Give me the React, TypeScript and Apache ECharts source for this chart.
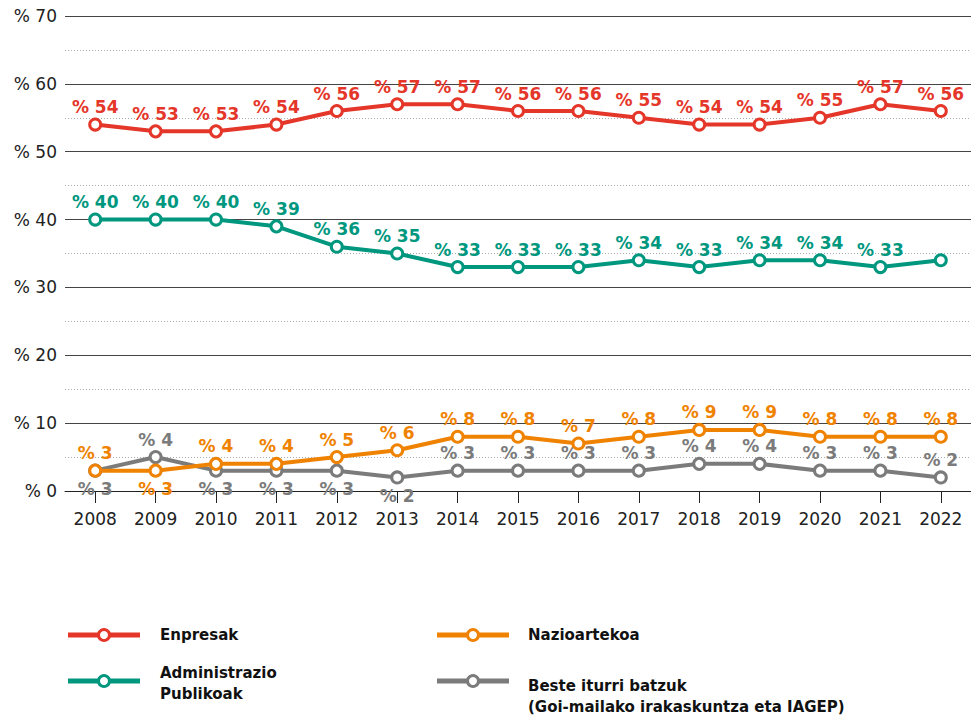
import React, { useEffect, useRef } from "react";
import * as echarts from "echarts";

const years = ["2008","2009","2010","2011","2012","2013","2014","2015","2016","2017","2018","2019","2020","2021","2022"];
const enpresak = [54,53,53,54,56,57,57,56,56,55,54,54,55,57,56];
const administrazioa = [40,40,40,39,36,35,33,33,33,34,33,34,34,33,34];
const nazioartekoa = [3,3,4,4,5,6,8,8,7,8,9,9,8,8,8];
const beste = [3,5,3,3,3,2,3,3,3,3,4,4,3,3,2];
const besteLabels = [3,4,3,3,3,2,3,3,3,3,4,4,3,3,2];
const nazioBelow = [false,true,false,false,false,false,false,false,false,false,false,false,false,false,false];
const besteBelow = [true,false,true,true,true,true,false,false,false,false,false,false,false,false,false];
const yTicks = [0,10,20,30,40,50,60,70];

const RED = "#e5362a";
const GREEN = "#00977f";
const ORANGE = "#ef8200";
const GRAY = "#7b7b7b";
const FONT = "'DejaVu Sans', sans-serif";

function mkSeries(name: string, data: number[], color: string, opts: any = {}) {
  return {
    name,
    type: "line",
    data: data.map((v, i) => {
      const item: any = { value: v };
      const below = opts.below ? opts.below[i] : false;
      const lbl = opts.labels ? opts.labels[i] : v;
      const hide = opts.hide ? opts.hide[i] : false;
      item.label = {
        show: !hide,
        position: below ? "bottom" : "top",
        distance: below ? 3 : 2,
        formatter: "% " + lbl,
      };
      return item;
    }),
    symbol: "circle",
    symbolSize: 11,
    showSymbol: true,
    lineStyle: { color, width: 4 },
    itemStyle: { color: "#fff", borderColor: color, borderWidth: 3 },
    label: {
      color,
      fontFamily: FONT,
      fontWeight: "bold",
      fontSize: 17,
    },
    z: opts.z || 2,
  };
}

export default function App() {
  const ref = useRef<HTMLDivElement>(null);
  useEffect(() => {
    if (!ref.current) return;
    const chart = echarts.init(ref.current, null, { renderer: "svg" });
    const legendItem = (x: number, y: number, color: string) => [
      { type: "line", shape: { x1: x, y1: y, x2: x + 72, y2: y }, style: { stroke: color, lineWidth: 5 } },
      { type: "circle", shape: { cx: x + 36, cy: y, r: 5.5 }, style: { fill: "#fff", stroke: color, lineWidth: 3 }, z: 10 },
    ];
    const legendText = (x: number, y: number, text: string) => ({
      type: "text", x, y,
      style: { text, fill: "#111", font: "bold 15px " + FONT, lineHeight: 21, textVerticalAlign: "middle" },
    });
    chart.setOption({
      animation: false,
      grid: { left: 65, width: 914, top: 16, height: 475, containLabel: false },
      xAxis: {
        type: "category",
        data: years,
        boundaryGap: true,
        axisLine: { show: true, lineStyle: { color: "#222", width: 1 } },
        axisTick: { show: true, alignWithLabel: true, length: 12, lineStyle: { color: "#222" } },
        axisLabel: { color: "#222", fontFamily: FONT, fontSize: 17, margin: 19 },
      },
      yAxis: {
        type: "value",
        min: 0,
        max: 70,
        interval: 10,
        axisLine: { show: false },
        axisTick: { show: false },
        axisLabel: {
          color: "#222", fontFamily: FONT, fontSize: 17, margin: 8,
          formatter: (v: number) => (yTicks.includes(v) ? "% " + v : ""),
        },
        splitLine: { show: true, lineStyle: { color: "#444", width: 1 } },
        minorTick: { show: false, splitNumber: 2 },
        minorSplitLine: { show: true, lineStyle: { color: "#aaa", type: [1, 2], width: 1 } },
      },
      series: [
        mkSeries("Enpresak", enpresak, RED),
        mkSeries("Administrazio Publikoak", administrazioa, GREEN, { hide: years.map((_, i) => i === years.length - 1) }),
        mkSeries("Beste iturri batzuk", beste, GRAY, { below: besteBelow, labels: besteLabels, z: 2 }),
        mkSeries("Nazioartekoa", nazioartekoa, ORANGE, { below: nazioBelow, z: 3 }),
      ],
      graphic: [
        ...legendItem(68, 635, RED),
        legendText(160, 635, "Enpresak"),
        ...legendItem(437, 635, ORANGE),
        legendText(528, 635, "Nazioartekoa"),
        ...legendItem(68, 681, GREEN),
        legendText(160, 683, "Administrazio\nPublikoak"),
        ...legendItem(437, 681, GRAY),
        legendText(528, 696, "Beste iturri batzuk\n(Goi-mailako irakaskuntza eta IAGEP)"),
      ],
    });
    return () => chart.dispose();
  }, []);
  return <div ref={ref} style={{ width: 971, height: 716, position: "absolute", left: 0, top: 0 }} />;
}
